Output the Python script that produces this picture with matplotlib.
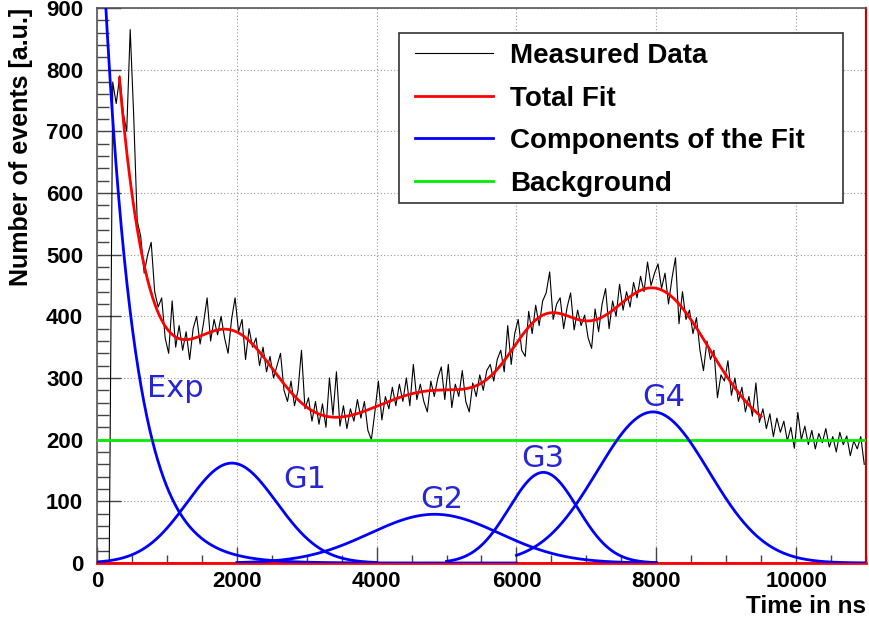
import numpy as np
import matplotlib
matplotlib.use("Agg")
import matplotlib.pyplot as plt
from matplotlib.ticker import MultipleLocator
from matplotlib.patches import Rectangle

plt.rcParams['font.family'] = ['Liberation Sans', 'DejaVu Sans']

# measured histogram, 50 ns bins starting at 175 ns
t_first = 175
bin_w = 50
counts = [
    0, 780, 745, 790, 730, 700, 865, 725,
    555, 530, 470, 500, 520, 440, 415, 430, 365, 340,
    425, 350, 385, 345, 375, 330, 380, 400, 355, 390,
    430, 360, 395, 370, 400, 365, 340, 395, 430, 375,
    395, 330, 380, 350, 365, 320, 350, 310, 335, 300,
    320, 340, 280, 262, 295, 255, 280, 345, 250, 268,
    230, 262, 225, 258, 220, 300, 240, 310, 222, 255,
    218, 250, 230, 265, 235, 262, 215, 200, 245, 295,
    232, 270, 250, 285, 255, 290, 262, 300, 255, 322,
    265, 290, 262, 245, 295, 270, 300, 318, 265, 322,
    252, 290, 270, 312, 262, 245, 292, 270, 305, 280,
    312, 322, 295, 330, 345, 310, 385, 322, 372, 395,
    345, 335, 408, 372, 418, 385, 425, 438, 472, 395,
    420, 430, 380, 415, 438, 378, 410, 385, 402, 365,
    348, 412, 375, 420, 445, 380, 425, 400, 452, 410,
    440, 415, 455, 430, 465, 440, 488, 450, 470, 485,
    445, 470, 420, 462, 495, 388, 440, 395, 410, 372,
    398, 345, 312, 360, 330, 345, 268, 305, 295, 328,
    272, 300, 262, 285, 245, 270, 238, 292, 228, 250,
    218, 242, 205, 235, 212, 230, 198, 220, 186, 244,
    200, 222, 192, 215, 185, 210, 195, 218, 188, 205,
    180, 212, 192, 206, 174, 198, 185, 205, 160,
]

# fit parameters
background = 200
exp_amp = 1200
exp_tau = 440
gauss_amp = [162, 79, 147, 245]
gauss_mean = [1930, 4830, 6385, 7953]
gauss_sigma = [640, 930, 490, 800]
gauss_range = [(0, 4000), (2000, 8000), (5000, 8000), (6000, 11000)]
exp_range = (0, 6000)
fit_range = (320, 9500)

# label anchors (time, value)
label_pos = {"Exp": (715, 269), "G1": (2670, 121), "G2": (4626, 90),
             "G3": (6063, 156), "G4": (7800, 255)}

legend_labels = ["Measured Data", "Total Fit", "Components of the Fit", "Background"]
legend_colors = ["black", "red", "blue", "#00ee00"]
legend_widths = [0.8, 2, 2, 2]


def expo(t):
    return exp_amp * np.exp(-t / exp_tau)


def gauss(t, i):
    return gauss_amp[i] * np.exp(-0.5 * ((t - gauss_mean[i]) / gauss_sigma[i]) ** 2)


fig = plt.figure(figsize=(8.7, 6.22), dpi=100)
ax = fig.add_axes([97 / 870, 1 - 563 / 622, 769 / 870, 555 / 622])

times = t_first + bin_w * np.arange(len(counts))
ax.plot(times, counts, color="black", lw=0.8, zorder=3)

ax.axhline(0, color="red", lw=2, zorder=4, clip_on=False)

te = np.linspace(exp_range[0], exp_range[1], 600)
ax.plot(te, expo(te), color="blue", lw=2, zorder=5)
for i in range(len(gauss_amp)):
    tg = np.linspace(gauss_range[i][0], gauss_range[i][1], 500)
    ax.plot(tg, gauss(tg, i), color="blue", lw=2, zorder=5)

ax.axhline(background, color="#00ee00", lw=2, zorder=4)

tf = np.linspace(fit_range[0], fit_range[1], 1000)
total = background + expo(tf) + sum(gauss(tf, i) for i in range(len(gauss_amp)))
ax.plot(tf, total, color="red", lw=2, zorder=6)

for name, (tx, vy) in label_pos.items():
    ax.text(tx, vy, name, color="#2626d8", fontsize=22, family="DejaVu Sans",
            ha="left", va="baseline", zorder=7)

ax.set_xlim(0, 11000)
ax.set_ylim(0, 900)
ax.xaxis.set_major_locator(MultipleLocator(2000))
ax.xaxis.set_minor_locator(MultipleLocator(500))
ax.yaxis.set_major_locator(MultipleLocator(100))
ax.yaxis.set_minor_locator(MultipleLocator(20))
ax.tick_params(which="both", direction="in", colors="#444444", width=1,
               labelcolor="black", labelsize=16)
ax.tick_params(axis="y", which="major", length=17, pad=10)
ax.tick_params(axis="y", which="minor", length=8.5)
ax.tick_params(axis="x", which="major", length=11.5, pad=6)
ax.tick_params(axis="x", which="minor", length=6)
for lab in ax.get_xticklabels() + ax.get_yticklabels():
    lab.set_fontweight("bold")

ax.grid(which="major", color="#999999", ls=(0, (1, 2)), lw=0.8)
ax.set_axisbelow(True)

for side in ["top", "left", "bottom"]:
    ax.spines[side].set_color("#555555")
    ax.spines[side].set_linewidth(1.2)
ax.spines["right"].set_color("#cc0000")
ax.spines["right"].set_linewidth(1.6)

ax.set_ylabel("Number of events [a.u.]", fontsize=18, fontweight="bold", loc="top")
ax.yaxis.set_label_coords(-0.083, 1.0)
ax.set_xlabel("Time in ns", fontsize=17.5, fontweight="bold", loc="right")
ax.xaxis.set_label_coords(1.0, -0.057)

# ROOT style legend box, drawn by hand in axes coordinates
box_x0, box_x1 = 0.3927, 0.9701
box_y0, box_y1 = 0.6494, 0.9544
ax.add_patch(Rectangle((box_x0, box_y0), box_x1 - box_x0, box_y1 - box_y0,
                       transform=ax.transAxes, facecolor="white", edgecolor="#333333",
                       lw=1.2, zorder=10))
row_y = [0.9189, 0.8414, 0.7658, 0.6883]
for lab, col, lw, y in zip(legend_labels, legend_colors, legend_widths, row_y):
    ax.plot([0.4135, 0.5150], [y, y], color=col, lw=lw, transform=ax.transAxes, zorder=11)
    ax.text(0.5371, y, lab, transform=ax.transAxes, fontsize=20, fontweight="bold",
            ha="left", va="center_baseline", zorder=11)

fig.savefig("out.png", dpi=100)
